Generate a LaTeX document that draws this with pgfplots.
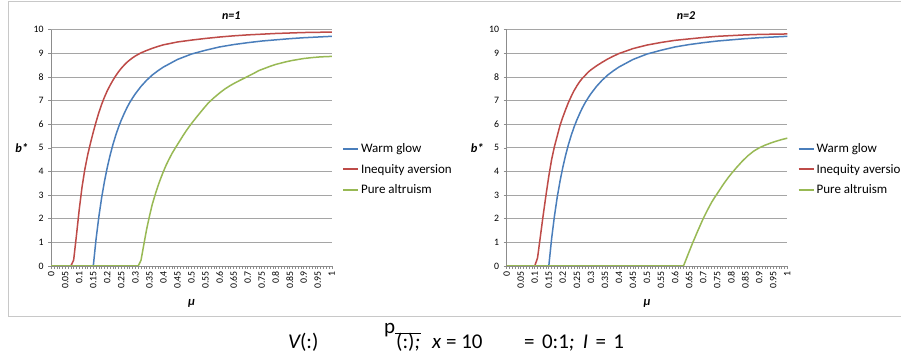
\documentclass[border=0pt]{standalone}
\usepackage{fontspec}
\setmainfont{Carlito}
\usepackage{pgfplots}
\pgfplotsset{compat=1.18}
\usepackage{pgfplotstable}
\definecolor{wgcol}{RGB}{74,126,187}
\definecolor{iacol}{RGB}{190,75,72}
\definecolor{pacol}{RGB}{152,185,84}
\definecolor{gridc}{RGB}{165,165,165}
\definecolor{axc}{RGB}{140,140,140}
\definecolor{boxc}{RGB}{200,200,200}
\newcommand{\ls}{\rule[-3pt]{0pt}{12pt}}

\pgfplotstableread{
mu b
0 0
0.15 0
0.16 1.15
0.17 2.10
0.18 2.91
0.19 3.59
0.20 4.18
0.21 4.69
0.22 5.14
0.23 5.53
0.24 5.88
0.25 6.18
0.26 6.45
0.27 6.70
0.28 6.92
0.29 7.11
0.30 7.29
0.32 7.60
0.34 7.86
0.36 8.08
0.38 8.26
0.40 8.42
0.45 8.74
0.50 8.97
0.55 9.13
0.60 9.27
0.65 9.37
0.70 9.45
0.75 9.52
0.80 9.57
0.85 9.62
0.90 9.66
0.95 9.69
1.00 9.72
}\warm

\pgfplotstableread{
mu b
0 0
0.07 0
0.08 0.25
0.09 1.3
0.10 2.4
0.11 3.35
0.12 4.1
0.13 4.7
0.14 5.2
0.15 5.67
0.16 6.1
0.17 6.5
0.18 6.85
0.19 7.15
0.20 7.42
0.21 7.65
0.22 7.86
0.23 8.05
0.24 8.22
0.25 8.37
0.26 8.5
0.27 8.62
0.28 8.72
0.29 8.81
0.30 8.89
0.32 9.02
0.34 9.12
0.36 9.21
0.38 9.29
0.40 9.36
0.45 9.48
0.50 9.56
0.55 9.63
0.60 9.69
0.65 9.74
0.70 9.78
0.75 9.81
0.80 9.84
0.85 9.86
0.90 9.88
0.95 9.89
1.00 9.90
}\redone

\pgfplotstableread{
mu b
0 0
0.31 0
0.32 0.24
0.33 0.9
0.34 1.55
0.35 2.1
0.36 2.6
0.37 3.0
0.38 3.37
0.39 3.7
0.40 4.0
0.41 4.28
0.42 4.52
0.43 4.75
0.44 4.95
0.45 5.14
0.46 5.33
0.47 5.52
0.48 5.7
0.49 5.87
0.50 6.03
0.52 6.33
0.54 6.62
0.56 6.9
0.58 7.12
0.60 7.32
0.62 7.5
0.64 7.65
0.66 7.78
0.68 7.9
0.70 8.02
0.72 8.14
0.74 8.27
0.76 8.36
0.78 8.45
0.80 8.53
0.82 8.59
0.84 8.65
0.86 8.7
0.88 8.74
0.90 8.78
0.93 8.82
0.96 8.85
1.00 8.87
}\greenone

\pgfplotstableread{
mu b
0 0
0.10 0
0.11 0.35
0.12 1.25
0.13 2.15
0.14 3.0
0.15 3.8
0.16 4.5
0.17 5.05
0.18 5.5
0.19 5.95
0.20 6.3
0.21 6.62
0.22 6.92
0.23 7.18
0.24 7.42
0.25 7.62
0.26 7.8
0.27 7.95
0.28 8.07
0.29 8.2
0.30 8.3
0.32 8.47
0.34 8.62
0.36 8.76
0.38 8.88
0.40 8.99
0.45 9.2
0.50 9.35
0.55 9.46
0.60 9.55
0.65 9.61
0.70 9.67
0.75 9.72
0.80 9.75
0.85 9.78
0.90 9.80
0.95 9.81
1.00 9.82
}\redtwo

\pgfplotstableread{
mu b
0 0
0.63 0
0.64 0.3
0.65 0.6
0.66 0.9
0.67 1.18
0.68 1.46
0.69 1.73
0.70 2.0
0.71 2.24
0.72 2.47
0.73 2.69
0.74 2.88
0.75 3.06
0.76 3.24
0.77 3.42
0.78 3.59
0.79 3.75
0.80 3.9
0.82 4.18
0.84 4.44
0.86 4.67
0.88 4.86
0.90 5.0
0.92 5.11
0.94 5.2
0.96 5.28
0.98 5.35
1.00 5.41
}\greentwo

\pgfplotsset{
  bstyle/.style={
    scale only axis, width=280.6pt, height=236.3pt,
    xmin=0, xmax=1, ymin=0, ymax=10,
    axis x line=bottom, axis y line=left,
    axis line style={-, axc, line width=0.8pt},
    xtick={0,0.05,0.1,0.15,0.2,0.25,0.3,0.35,0.4,0.45,0.5,0.55,0.6,0.65,0.7,0.75,0.8,0.85,0.9,0.95,1},
    xticklabels={0,0.05,0.1,0.15,0.2,0.25,0.3,0.35,0.4,0.45,0.5,0.55,0.6,0.65,0.7,0.75,0.8,0.85,0.9,0.95,1},
    minor x tick num=4,
    ytick={0,1,2,3,4,5,6,7,8,9,10},
    yticklabels={0,1,2,3,4,5,6,7,8,9,10},
    tick align=outside, major tick length=3pt, minor tick length=3pt,
    tick style={axc, line width=0.6pt},
    ymajorgrids, grid style={gridc, line width=0.8pt},
    xticklabel style={rotate=90, anchor=east, font=\fontsize{9.8}{10}\selectfont, inner sep=2pt},
    yticklabel style={font=\fontsize{9.8}{10}\selectfont, inner sep=2pt, xshift=-2.5pt},
    title style={anchor=center, yshift=-11pt, font=\fontsize{12}{14}\selectfont\bfseries\itshape},
    ylabel={b*},
    ylabel style={at={(axis description cs:-0.105,0.498)}, rotate=-90, anchor=center, font=\fontsize{12.5}{14}\selectfont\bfseries\itshape},
    xlabel={μ},
    xlabel style={at={(axis description cs:0.5,-0.157)}, anchor=center, font=\fontsize{12.5}{14}\selectfont\bfseries\itshape},
    legend style={anchor=west, draw=none, fill=none, inner sep=0pt,
      font=\fontsize{13}{15}\selectfont, row sep=5.7pt},
    legend cell align=left,
    legend image code/.code={\draw[#1, line width=2pt] (0pt,0pt) -- (15pt,0pt);},
    every axis plot/.append style={line width=1.5pt, line join=round},
  }
}

\begin{document}
\begin{tikzpicture}[x=1pt,y=1pt]
\useasboundingbox (0,0) rectangle (901,363);
\fill[white] (0,0) rectangle (901,363);
\draw[boxc, line width=1pt] (901,361.5) -- (8,361.5) -- (8,46) -- (901,46);

\begin{scope}
\clip (0,40) rectangle (450,363);
\begin{axis}[bstyle, at={(51.2pt,97pt)}, anchor=south west,
  title={n=1}, title style={at={(axis description cs:0.6415,1.079)}},
  legend style={at={(axis description cs:1.036,0.409)}}]
\addplot[color=wgcol] table[x=mu,y=b] {\warm};
\addlegendentry{\ls Warm glow}
\addplot[color=iacol] table[x=mu,y=b] {\redone};
\addlegendentry{\ls Inequity aversion}
\addplot[color=pacol] table[x=mu,y=b] {\greenone};
\addlegendentry{\ls Pure altruism}
\end{axis}
\end{scope}

\begin{scope}
\clip (450,40) rectangle (901,363);
\begin{axis}[bstyle, at={(506.7pt,97pt)}, anchor=south west,
  title={n=2}, title style={at={(axis description cs:0.639,1.079)}},
  legend style={at={(axis description cs:1.036,0.409)}}]
\addplot[color=wgcol] table[x=mu,y=b] {\warm};
\addlegendentry{\ls Warm glow}
\addplot[color=iacol] table[x=mu,y=b] {\redtwo};
\addlegendentry{\ls Inequity aversion}
\addplot[color=pacol] table[x=mu,y=b] {\greentwo};
\addlegendentry{\ls Pure altruism}
\end{axis}
\end{scope}

\begin{scope}[font=\fontsize{21}{23}\selectfont]
\node[anchor=base west, inner sep=0pt] at (288,14) {\itshape V\upshape(:)};
\node[anchor=base west, inner sep=0pt] at (384,29) {p};
\draw[line width=0.7pt] (395,30) -- (421,30);
\node[anchor=base west, inner sep=0pt] at (396,14) {(:)\itshape;};
\node[anchor=base west, inner sep=0pt] at (432,14) {\itshape x\upshape\ =\ 10};
\node[anchor=base west, inner sep=0pt] at (524,14) {=\hspace{0.35em}0:1\itshape;\hspace{0.4em}I\upshape\hspace{0.35em}=\hspace{0.35em}1};
\end{scope}
\end{tikzpicture}
\end{document}
